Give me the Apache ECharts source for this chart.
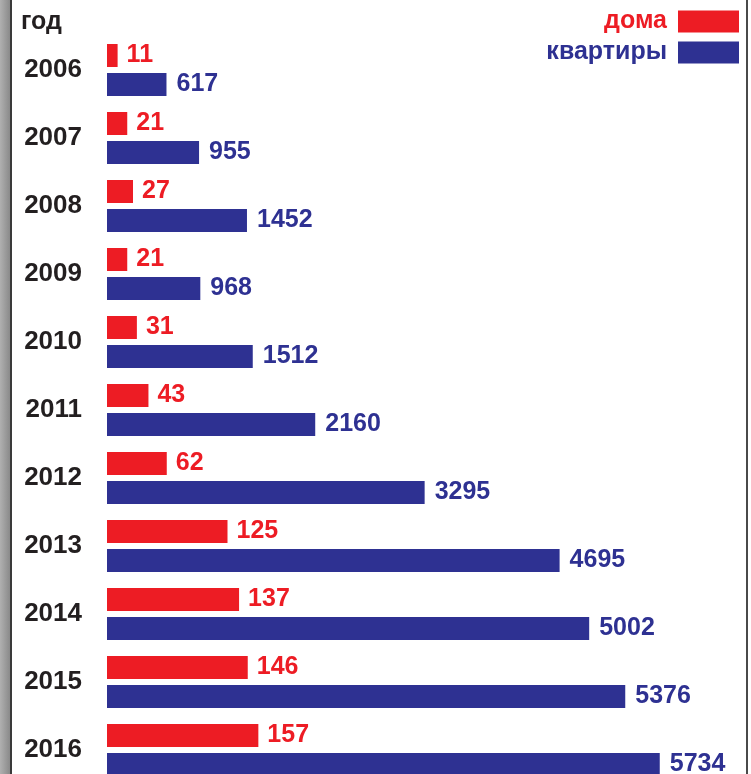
<!DOCTYPE html>
<html>
<head>
<meta charset="utf-8">
<script src="https://cdn.jsdelivr.net/npm/echarts@6/dist/echarts.min.js"></script>
<style>
html,body{margin:0;padding:0;background:#fff;}
#chart{width:751px;height:774px;}
</style>
</head>
<body>
<div id="chart"></div>
<script>
const years = ['2006','2007','2008','2009','2010','2011','2012','2013','2014','2015','2016'];
const houses = [11,21,27,21,31,43,62,125,137,146,157];
const flats = [617,955,1452,968,1512,2160,3295,4695,5002,5376,5734];
const seriesNames = ['дома','квартиры'];
const axisTitle = 'год';

const RED = '#ed1c24';
const BLUE = '#2e3192';
const FONT = '"Liberation Sans", Arial, sans-serif';

const chart = echarts.init(document.getElementById('chart'), null, {renderer:'canvas'});
chart.setOption({
  animation:false,
  backgroundColor:'#fff',
  graphic:[
    {type:'rect', left:0, top:0, shape:{width:10, height:774},
     style:{fill:new echarts.graphic.LinearGradient(0,0,1,0,[{offset:0,color:'#b0b0b0'},{offset:1,color:'#8a8a8a'}])}},
    {type:'rect', left:10, top:0, shape:{width:2, height:774}, style:{fill:'#3a3a3a'}},
    {type:'rect', left:746, top:0, shape:{width:2, height:774}, style:{fill:'#4a4a4a'}},
    {type:'text', left:21, top:10, style:{text:axisTitle, fill:'#231f20', font:'bold 25px ' + FONT}}
  ],
  legend:{
    orient:'vertical', right:7, top:4, align:'right',
    itemWidth:61, itemHeight:22, itemGap:6,
    icon:'rect',
    data:[
      {name:seriesNames[0], textStyle:{color:RED}},
      {name:seriesNames[1], textStyle:{color:BLUE}}
    ],
    textStyle:{fontSize:25, fontWeight:'bold', fontFamily:FONT, padding:[0,6,0,0]}
  },
  grid:{left:107, top:36, width:578.4, height:748, containLabel:false, outerBoundsMode:'none'},
  xAxis:[
    {type:'value', min:0, max:6000, show:false},
    {type:'value', min:0, max:600, show:false}
  ],
  yAxis:{
    type:'category', data:years, inverse:true,
    axisLine:{show:false}, axisTick:{show:false}, splitLine:{show:false},
    axisLabel:{margin:25, color:'#231f20', fontSize:26, fontWeight:'bold', fontFamily:FONT}
  },
  series:[
    {name:seriesNames[0], type:'bar', xAxisIndex:1, data:houses, barWidth:23, barGap:'26%',
     itemStyle:{color:RED},
     label:{show:true, position:'right', distance:9, color:RED, fontSize:25, fontWeight:'bold', fontFamily:FONT}},
    {name:seriesNames[1], type:'bar', xAxisIndex:0, data:flats, barWidth:23, barGap:'26%',
     itemStyle:{color:BLUE},
     label:{show:true, position:'right', distance:10, color:BLUE, fontSize:25, fontWeight:'bold', fontFamily:FONT}}
  ]
});
</script>
</body>
</html>
